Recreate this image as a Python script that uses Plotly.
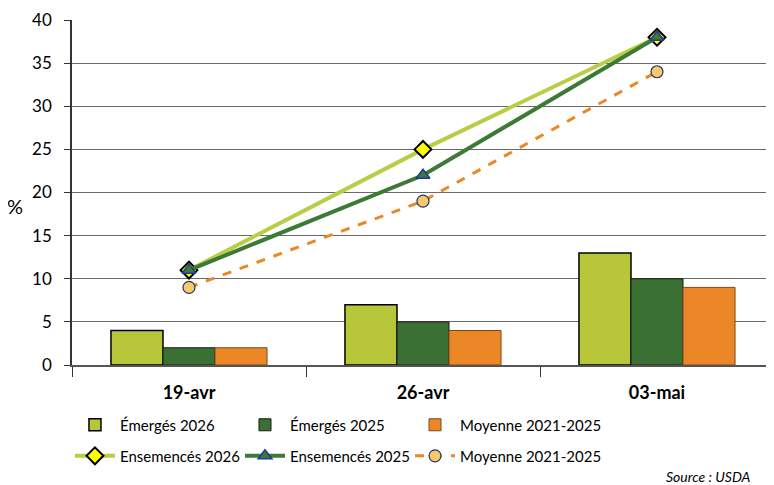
import plotly.graph_objects as go

categories = ["19-avr", "26-avr", "03-mai"]
emerges_2026 = [4, 7, 13]
emerges_2025 = [2, 5, 10]
emerges_moy = [2, 4, 9]
seme_2026 = [11, 25, 38]
seme_2025 = [11, 22, 38]
seme_moy = [9, 19, 34]
y_ticks = [0, 5, 10, 15, 20, 25, 30, 35, 40]

FONT = "Lato"
fig = go.Figure()

fig.add_bar(x=categories, y=emerges_2026, name="Émergés 2026",
            marker=dict(color="#B8C63A", line=dict(color="black", width=1.5)), legend="legend")
fig.add_bar(x=categories, y=emerges_2025, name="Émergés 2025",
            marker=dict(color="#3A7033", line=dict(color="#1a1a1a", width=1)), legend="legend2")
fig.add_bar(x=categories, y=emerges_moy, name="Moyenne 2021-2025",
            marker=dict(color="#EC8727", line=dict(color="#7a4a1a", width=1)), legend="legend3")

fig.add_scatter(x=categories, y=seme_2026, name="Ensemencés 2026", mode="lines+markers",
                line=dict(color="#B8CE44", width=4),
                marker=dict(symbol="diamond", size=13, color="#FFFF00", line=dict(color="black", width=2)),
                legend="legend4")
fig.add_scatter(x=categories, y=seme_2025, name="Ensemencés 2025", mode="lines+markers",
                line=dict(color="#3D7A35", width=4),
                marker=dict(symbol="triangle-up", size=12, color="#3D7A35", line=dict(color="#1F3A9A", width=1.5)),
                legend="legend5")
fig.add_scatter(x=categories, y=seme_moy, name="Moyenne 2021-2025", mode="lines+markers",
                line=dict(color="#EC8727", width=3, dash="dash"),
                marker=dict(symbol="circle", size=12, color="#FAC86C", line=dict(color="#1F3864", width=1.2)),
                legend="legend6")

leg_common = dict(orientation="h", xanchor="left", yanchor="middle",
                  font=dict(size=15, family=FONT), itemwidth=40,
                  bgcolor="rgba(0,0,0,0)")
col_x = [-0.0029, 0.2393, 0.4815]
row_y = [-0.174, -0.264]
legends = {}
for r in range(2):
    for c in range(3):
        idx = r * 3 + c
        key = "legend" if idx == 0 else f"legend{idx + 1}"
        legends[key] = dict(x=col_x[c], y=row_y[r], **leg_common)

fig.update_layout(
    width=766, height=477,
    margin=dict(l=64, r=0, t=12, b=120, autoexpand=False),
    plot_bgcolor="white", paper_bgcolor="white",
    font=dict(family=FONT, size=16, color="black"),
    barmode="group", bargap=0.333, bargroupgap=0,
    showlegend=True,
    **legends,
)
fig.update_xaxes(type="category", tickson="boundaries", ticks="outside", ticklen=10,
                 tickcolor="#333", showline=True, linecolor="#555", linewidth=1.5,
                 showgrid=False, automargin=False, ticklabelstandoff=11,
                 tickfont=dict(size=18, family=FONT, weight="bold"))
fig.update_yaxes(range=[0, 40], tickvals=y_ticks, ticks="outside", ticklen=6,
                 tickcolor="#333", showline=True, linecolor="#333", linewidth=1.5,
                 showgrid=True, gridcolor="#6a6a6a", gridwidth=1, zeroline=False,
                 automargin=False, ticklabelstandoff=9,
                 tickfont=dict(size=17, family=FONT))

fig.add_annotation(text="%", xref="paper", yref="paper", x=-0.081, y=0.46,
                   showarrow=False, font=dict(size=20, family=FONT), xanchor="center")
fig.add_annotation(text="<i>Source : USDA</i>", xref="paper", yref="paper", x=0.97, y=-(476 - 365) / 345,
                   xanchor="right", yanchor="middle", showarrow=False, font=dict(size=14, family=FONT))

fig.write_html("out.html")
